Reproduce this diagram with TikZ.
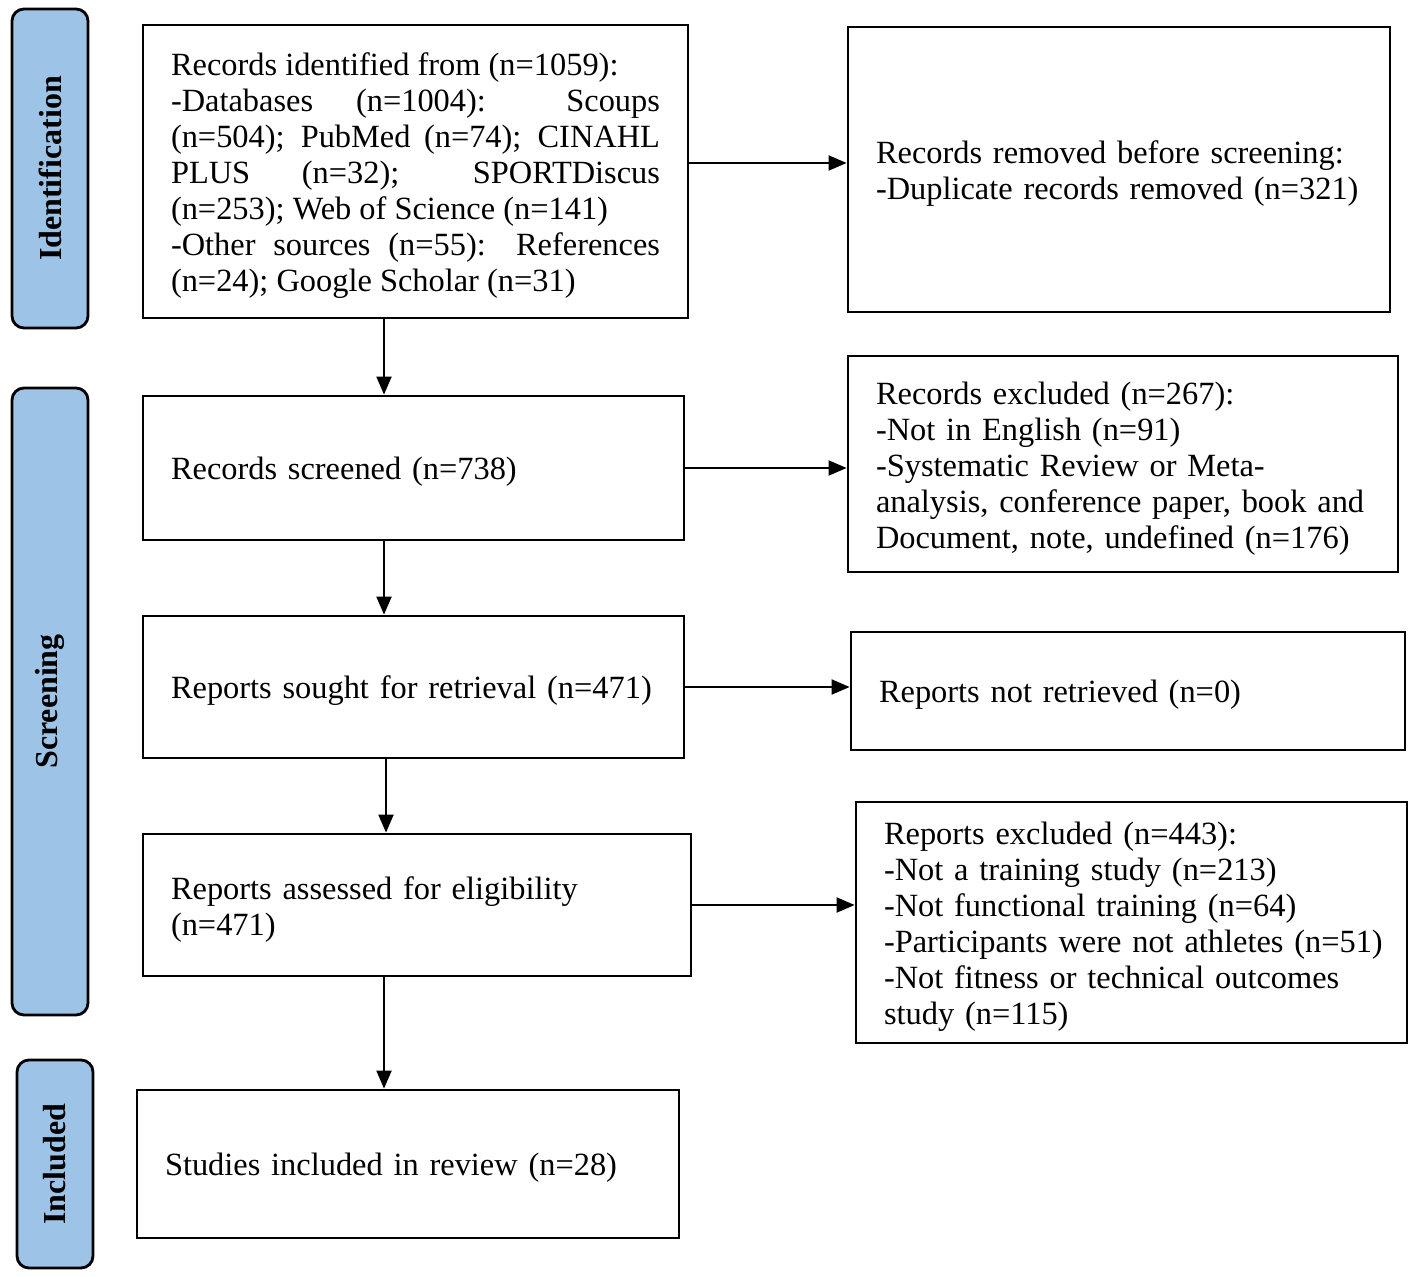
\documentclass[tikz,border=0pt]{standalone}
\usepackage{fontspec}
\setmainfont{Liberation Serif}
\usetikzlibrary{arrows.meta,calc}
\definecolor{sideblue}{RGB}{157,195,230}
\hyphenpenalty=10000
\exhyphenpenalty=10000
\newcommand{\boxlower}{\endgraf\vspace*{-4.5pt}}
\begin{document}
\begin{tikzpicture}[x=0.5pt,y=-0.5pt,
  box/.style={draw, line width=1.4pt, inner xsep=14pt, inner ysep=0pt, align=left,
    font=\fontsize{16.2}{18}\selectfont, execute at end node=\boxlower},
  sidebox/.style={draw, line width=1.4pt, fill=sideblue, rounded corners=6pt, rotate=90,
    minimum height=38pt, inner sep=0pt, font=\fontsize{16}{18}\selectfont\bfseries},
  arr/.style={line width=1pt, -{Triangle[length=9pt,width=7.5pt]}}
]
\useasboundingbox (0,0) rectangle (1416,1277);

\node[sidebox, minimum width=159.5pt] (sid) at (50,168.5) {Identification};
\node[sidebox, minimum width=313.5pt] (sscr) at (50,701.5) {Screening};
\node[sidebox, minimum width=104pt] (sinc) at (55,1164) {Included};

\node[box, align=justify, text width=244.5pt, minimum width=272.5pt, minimum height=146.5pt] (A) at (415.5,171.5)
 {Records identified from (n=1059):\\
 -Databases (n=1004): Scoups\linebreak (n=504); PubMed (n=74); CINAHL\linebreak PLUS (n=32); SPORTDiscus\linebreak (n=253); Web of Science (n=141)\\
 -Other sources (n=55): References\linebreak (n=24); Google Scholar (n=31)};

\node[box, text width=243pt, minimum width=271pt, minimum height=142.5pt] (B) at (1119,169.5)
 {Records removed before screening:\\ -Duplicate records removed (n=321)};

\node[box, text width=242.5pt, minimum width=270.5pt, minimum height=72pt] (C) at (413.5,468)
 {Records screened (n=738)};

\node[box, text width=247pt, minimum width=275pt, minimum height=108pt] (D) at (1123,464)
 {Records excluded (n=267):\\ -Not in English (n=91)\\ -Systematic Review or Meta-\\ analysis, conference paper, book and\\ Document, note, undefined (n=176)};

\node[box, text width=242.5pt, minimum width=270.5pt, minimum height=71pt] (E) at (413.5,687)
 {Reports sought for retrieval (n=471)};

\node[box, text width=249pt, minimum width=277pt, minimum height=59pt] (F) at (1128,691)
 {Reports not retrieved (n=0)};

\node[box, text width=246pt, minimum width=274pt, minimum height=71pt] (G) at (417,905)
 {Reports assessed for eligibility\\ (n=471)};

\node[box, text width=247.5pt, minimum width=275.5pt, minimum height=120.5pt] (H) at (1131.5,922.5)
 {Reports excluded (n=443):\\ -Not a training study (n=213)\\ -Not functional training (n=64)\\ \mbox{-Participants were not athletes (n=51)}\\ -Not fitness or technical outcomes\\ study (n=115)};

\node[box, text width=243pt, minimum width=271pt, minimum height=74pt] (I) at (408,1164)
 {Studies included in review (n=28)};

\draw[arr] ([yshift=4.25pt]A.east) -- ([yshift=4.25pt]A.east -| B.west);
\draw[arr] (C.east) -- (C.east -| D.west);
\draw[arr] (E.east) -- (E.east -| F.west);
\draw[arr] (G.east) -- (G.east -| H.west);

\draw[arr] ([xshift=-15.75pt]A.south) -- ([xshift=-15.75pt]A.south |- C.north);
\draw[arr] ([xshift=-14.75pt]C.south) -- ([xshift=-14.75pt]C.south |- E.north);
\draw[arr] ([xshift=-13.75pt]E.south) -- ([xshift=-13.75pt]E.south |- G.north);
\draw[arr] ([xshift=-16.5pt]G.south) -- ([xshift=-16.5pt]G.south |- I.north);
\end{tikzpicture}
\end{document}
